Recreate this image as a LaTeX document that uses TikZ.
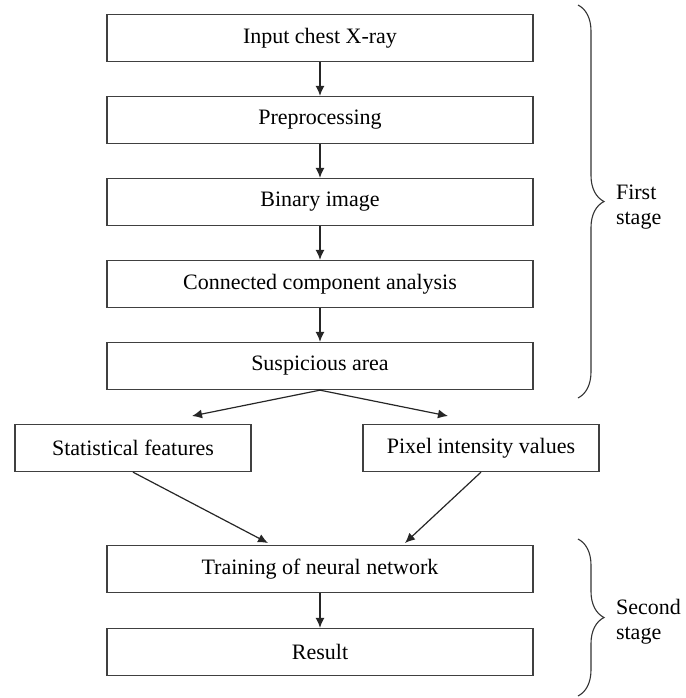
\documentclass[tikz,border=0pt]{standalone}
\usepackage{fontspec}
\setmainfont{Liberation Serif}
\usetikzlibrary{arrows.meta,decorations.pathreplacing}

\begin{document}
\begin{tikzpicture}
  [x=0.5pt,y=-0.5pt,
   every node/.style={font=\fontsize{11}{12.5}\selectfont},
   box/.style={draw=black!75,line width=0.65pt,minimum width=213pt,minimum height=23.5pt,inner sep=0pt},
   sbox/.style={box,minimum width=118pt},
   arr/.style={-{Latex[length=5pt,width=4.5pt]},black!85,line width=0.6pt},
   brace/.style={decorate,decoration={brace,amplitude=13pt},draw=black!80,line width=0.55pt}]
  \useasboundingbox (0,0) rectangle (686,698);
  \node[box] (n1) at (320,38) {Input chest X-ray};
  \node[box] (n2) at (320,120) {Preprocessing};
  \node[box] (n3) at (320,202) {Binary image};
  \node[box] (n4) at (320,284) {Connected component analysis};
  \node[box] (n5) at (320,366) {Suspicious area};
  \node[sbox] (n6) at (133,448) {Statistical features};
  \node[sbox] (n7) at (481,448) {Pixel intensity values};
  \node[box] (n8) at (320,569) {Training of neural network};
  \node[box] (n9) at (320,652) {Result};

  % free ends of the slanted arrows
  \coordinate (c1) at (192,416);
  \coordinate (c2) at (448,416);
  \coordinate (c3) at (268,543);
  \coordinate (c4) at (405,543);

  \foreach \from/\to in {n1/n2,n2/n3,n3/n4,n4/n5,n8/n9}
    \draw[arr] (\from) -- (\to);
  \draw[arr] (n5.south) -- (c1);
  \draw[arr] (n5.south) -- (c2);
  \draw[arr] (n6.south) -- (c3);
  \draw[arr] (n7.south) -- (c4);

  % stages
  \coordinate (b1) at (578,5);
  \coordinate (b2) at (578,398);
  \coordinate (b3) at (578,539);
  \coordinate (b4) at (578,696);
  \draw[brace] (b1) -- (b2);
  \draw[brace] (b3) -- (b4);
  \node[anchor=west,align=left] (s1) at (609,207) {First\\stage};
  \node[anchor=west,align=left] (s2) at (609,622) {Second\\stage};
\end{tikzpicture}
\end{document}
